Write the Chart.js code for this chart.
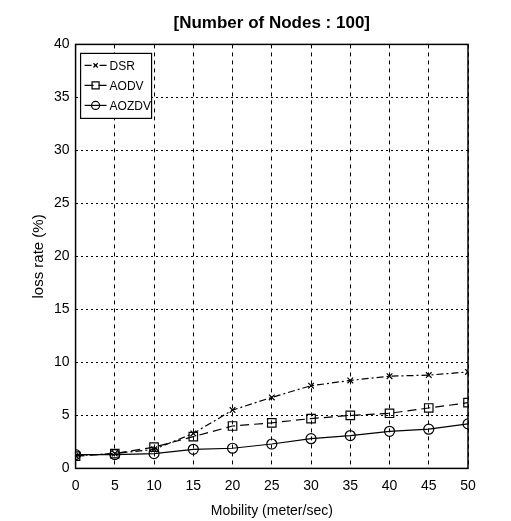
<!DOCTYPE html>
<html lang="en">
<head>
    <meta charset="UTF-8">
    <title>Loss rate vs mobility</title>
    <script src="https://cdn.jsdelivr.net/npm/chart.js"></script>
    <style>
        body {
            margin: 0;
            background: #ffffff;
        }
        #wrap {
            width: 511px;
            height: 521px;
            position: relative;
        }
    </style>
</head>
<body>
    <div id="wrap">
        <canvas id="lossChart" width="511" height="521"></canvas>
    </div>

    <script>
        // data
        const mobility = [0, 5, 10, 15, 20, 25, 30, 35, 40, 45, 50];
        const dsr   = [1.2, 1.4, 1.8, 3.3, 5.5, 6.7, 7.8, 8.3, 8.7, 8.8, 9.1];
        const aodv  = [1.15, 1.4, 2.0, 3.0, 4.0, 4.3, 4.7, 5.0, 5.2, 5.7, 6.2];
        const aozdv = [1.3, 1.3, 1.4, 1.8, 1.9, 2.3, 2.8, 3.1, 3.5, 3.7, 4.2];
        const yTicks = [0, 5, 10, 15, 20, 25, 30, 35, 40];

        const FONT = "'Liberation Sans', Arial, sans-serif";

        const pairs = (ys) => mobility.map((x, i) => ({ x: x, y: ys[i] }));

        // box around the plot + legend inside top-left corner
        const frameLegend = {
            id: 'frameLegend',
            afterDraw(chart) {
                const ctx = chart.ctx;
                const a = chart.chartArea;
                ctx.save();
                ctx.strokeStyle = '#000';
                ctx.lineWidth = 1.5;
                ctx.setLineDash([]);
                ctx.strokeRect(a.left, a.top, a.right - a.left, a.bottom - a.top);

                const bx = a.left + 5, by = a.top + 9, bw = 71, bh = 65;
                ctx.fillStyle = '#fff';
                ctx.fillRect(bx, by, bw, bh);
                ctx.lineWidth = 1.2;
                ctx.strokeRect(bx, by, bw, bh);

                ctx.font = '12px ' + FONT;
                ctx.textBaseline = 'middle';
                chart.data.datasets.forEach((ds, i) => {
                    const yy = by + 12 + i * 20;
                    ctx.strokeStyle = '#000';
                    ctx.lineWidth = 1.2;
                    ctx.setLineDash(ds.borderDash || []);
                    ctx.beginPath();
                    ctx.moveTo(bx + 4, yy);
                    ctx.lineTo(bx + 26, yy);
                    ctx.stroke();
                    ctx.setLineDash([]);
                    ctx.fillStyle = 'rgba(0,0,0,0)';
                    Chart.helpers.drawPoint(ctx, {
                        pointStyle: ds.pointStyle,
                        radius: ds.pointRadius - 1,
                        borderWidth: 1.2,
                        rotation: 0
                    }, bx + 15, yy);
                    ctx.fillStyle = '#000';
                    ctx.fillText(ds.label, bx + 29, yy + 1);
                });
                ctx.restore();
            }
        };

        new Chart(document.getElementById('lossChart').getContext('2d'), {
            type: 'line',
            data: {
                datasets: [
                    {
                        label: 'DSR',
                        data: pairs(dsr),
                        borderColor: '#000',
                        borderWidth: 1.2,
                        borderDash: [7, 3, 2, 3],
                        pointStyle: 'crossRot',
                        pointRadius: 4,
                        pointBorderColor: '#000',
                        pointBackgroundColor: 'rgba(0,0,0,0)',
                        tension: 0
                    },
                    {
                        label: 'AODV',
                        data: pairs(aodv),
                        borderColor: '#000',
                        borderWidth: 1.2,
                        borderDash: [9, 5],
                        pointStyle: 'rect',
                        pointRadius: 6,
                        pointBorderColor: '#000',
                        pointBackgroundColor: 'rgba(0,0,0,0)',
                        tension: 0
                    },
                    {
                        label: 'AOZDV',
                        data: pairs(aozdv),
                        borderColor: '#000',
                        borderWidth: 1.2,
                        pointStyle: 'circle',
                        pointRadius: 5,
                        pointBorderColor: '#000',
                        pointBackgroundColor: 'rgba(0,0,0,0)',
                        tension: 0
                    }
                ]
            },
            options: {
                responsive: false,
                animation: false,
                layout: { padding: { left: 30, right: 43, top: 4, bottom: 1 } },
                plugins: {
                    legend: { display: false },
                    tooltip: { enabled: false },
                    title: {
                        display: true,
                        fullSize: false,
                        text: '[Number of Nodes : 100]',
                        color: '#000',
                        font: { family: FONT, size: 17, weight: 'bold' },
                        padding: { top: 9, bottom: 11 }
                    }
                },
                scales: {
                    x: {
                        type: 'linear',
                        min: 0,
                        max: 50,
                        afterBuildTicks: (s) => { s.ticks = mobility.map(v => ({ value: v })); },
                        grid: { color: '#000', lineWidth: 1, drawTicks: false },
                        border: { display: false, dash: [4, 4] },
                        ticks: { color: '#000', padding: 9, font: { family: FONT, size: 14 } },
                        title: {
                            display: true,
                            text: 'Mobility (meter/sec)',
                            color: '#000',
                            padding: { top: 0, bottom: 0 },
                            font: { family: FONT, size: 14 }
                        }
                    },
                    y: {
                        min: 0,
                        max: 40,
                        afterBuildTicks: (s) => { s.ticks = yTicks.map(v => ({ value: v })); },
                        grid: { color: '#000', lineWidth: 1, drawTicks: false },
                        border: { display: false, dash: [2, 3] },
                        ticks: { color: '#000', padding: 6, font: { family: FONT, size: 14 } },
                        title: {
                            display: true,
                            text: 'loss rate (%)',
                            color: '#000',
                            padding: { top: 0, bottom: 0 },
                            font: { family: FONT, size: 15 }
                        }
                    }
                }
            },
            plugins: [frameLegend]
        });
    </script>
</body>
</html>
